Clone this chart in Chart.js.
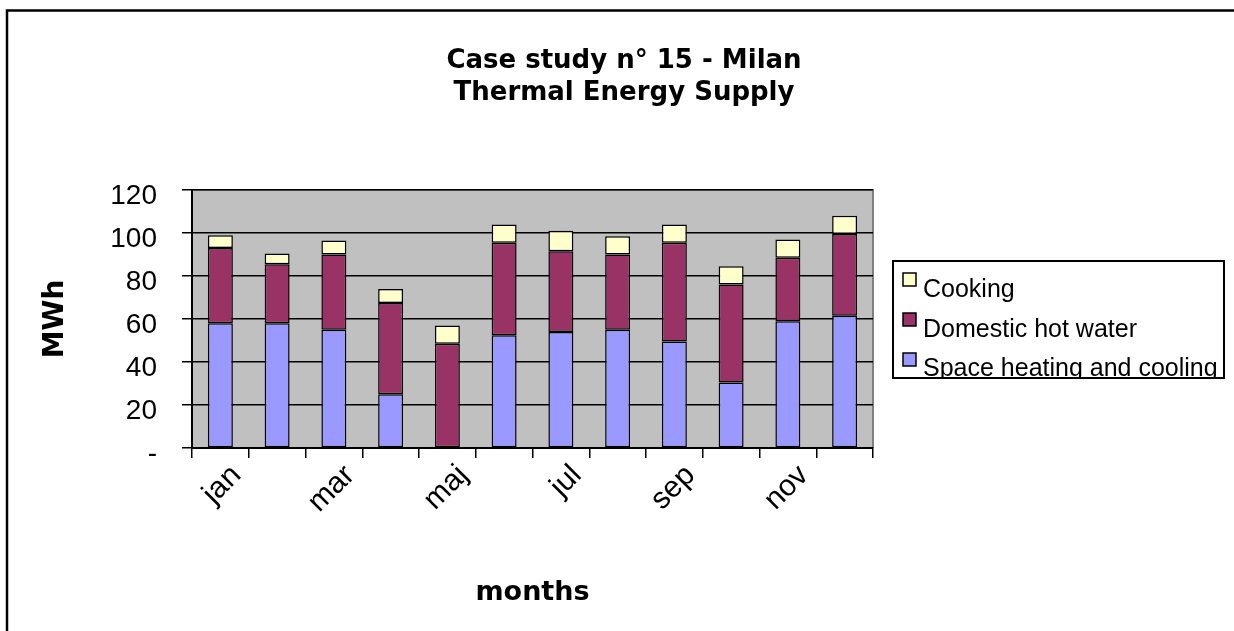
<!DOCTYPE html>
<html>
<head>
<meta charset="utf-8">
<script src="https://cdn.jsdelivr.net/npm/chart.js@4/dist/chart.umd.min.js"></script>
<style>
  html, body { margin: 0; padding: 0; background: #ffffff; }
  #wrap { width: 1234px; height: 631px; position: relative; }
</style>
</head>
<body>
<div id="wrap"><canvas id="c" width="1234" height="631"></canvas></div>
<script>
const categories = ['jan','feb','mar','apr','maj','jun','jul','aug','sep','okt','nov','dec'];
const spaceHeating = [58, 58, 55, 25, 0, 52.5, 54, 55, 49.5, 30.5, 59, 61.5];
const domesticHotWater = [35, 27.5, 35, 42.5, 48.5, 43, 37.5, 35, 46, 45.5, 29.5, 38];
const cooking = [6, 5, 6.5, 6.5, 8.5, 8.5, 9.5, 8.5, 8.5, 8.5, 8.5, 8.5];
const yTicks = [0, 20, 40, 60, 80, 100, 120];
const titleLines = ['Case study n° 15 - Milan', 'Thermal Energy Supply'];
const seriesNames = ['Space heating and cooling', 'Domestic hot water', 'Cooking'];
const seriesColors = ['#9999FF', '#993366', '#FFFFCC'];

const BOLD = '"DejaVu Sans", "Liberation Sans", Arial, sans-serif';
const REG = '"Liberation Sans", Arial, sans-serif';

const frame = {
  id: 'frame',
  beforeDraw(chart) {
    const {ctx, chartArea: a} = chart;
    ctx.save();
    ctx.fillStyle = '#ffffff';
    ctx.fillRect(0, 0, chart.width, chart.height);
    ctx.fillStyle = '#C0C0C0';
    ctx.fillRect(a.left, a.top, a.right - a.left, a.bottom - a.top);
    ctx.strokeStyle = '#808080';
    ctx.lineWidth = 2;
    ctx.beginPath();
    ctx.moveTo(a.left, a.top);
    ctx.lineTo(a.right, a.top);
    ctx.lineTo(a.right, a.bottom);
    ctx.stroke();
    ctx.restore();
  },
  afterDraw(chart) {
    const {ctx} = chart;
    ctx.save();
    // outer chart border
    ctx.strokeStyle = '#000';
    ctx.lineWidth = 2.5;
    ctx.strokeRect(7, 10.5, 1300, 1000);
    // title
    ctx.fillStyle = '#000';
    ctx.font = 'bold 26px ' + BOLD;
    ctx.textAlign = 'center';
    ctx.textBaseline = 'alphabetic';
    ctx.fillText(titleLines[0], 624, 68);
    ctx.fillText(titleLines[1], 624, 100);
    // legend
    const lx = 893, ly = 261, lw = 331, lh = 117;
    ctx.fillStyle = '#fff';
    ctx.fillRect(lx, ly, lw, lh);
    ctx.strokeStyle = '#000';
    ctx.lineWidth = 2;
    ctx.strokeRect(lx, ly, lw, lh);
    ctx.beginPath();
    ctx.rect(lx + 1, ly + 1, lw - 2, lh - 2);
    ctx.clip();
    const ds = chart.data.datasets.slice().reverse();
    ctx.font = '25px ' + REG;
    ctx.textAlign = 'left';
    ds.forEach((d, i) => {
      const sy = 273 + i * 40;
      ctx.fillStyle = d.backgroundColor;
      ctx.fillRect(903, sy, 13, 13);
      ctx.strokeStyle = '#000';
      ctx.lineWidth = 1.5;
      ctx.strokeRect(903, sy, 13, 13);
      ctx.fillStyle = '#000';
      ctx.fillText(d.label, 923, 297 + i * 39.5);
    });
    ctx.restore();
  }
};

const datasets = [spaceHeating, domesticHotWater, cooking].map((vals, i) => ({
  label: seriesNames[i],
  data: vals,
  backgroundColor: seriesColors[i],
  borderColor: '#000',
  borderWidth: 1.5,
  borderSkipped: false,
  barPercentage: 0.44,
  categoryPercentage: 1.0
}));

new Chart(document.getElementById('c'), {
  type: 'bar',
  data: { labels: categories, datasets },
  plugins: [frame],
  options: {
    responsive: false,
    animation: false,
    layout: { padding: { top: 190, right: 361, bottom: 0, left: 0 } },
    plugins: {
      legend: { display: false },
      title: { display: false },
      tooltip: { enabled: false }
    },
    scales: {
      x: {
        stacked: true,
        afterFit(s) { s.height = 631 - 448; },
        border: { display: true, color: '#000', width: 2 },
        grid: { display: true, drawOnChartArea: false, drawTicks: true, tickLength: 10, color: '#000', lineWidth: 1.5, offset: true },
        ticks: {
          autoSkip: false,
          minRotation: 45,
          maxRotation: 45,
          color: '#000',
          font: { family: REG, size: 30 },
          padding: 0,
          labelOffset: 16,
          callback(v, i) { return i % 2 === 0 ? categories[i] : ''; }
        },
        title: {
          display: true,
          text: 'months',
          color: '#000',
          font: { family: BOLD, size: 27, weight: 'bold', lineHeight: 1.2 },
          padding: { top: 0, bottom: 22 }
        }
      },
      y: {
        stacked: true,
        min: 0,
        max: 120,
        afterFit(s) { s.width = 192; },
        afterBuildTicks(s) { s.ticks = yTicks.map(v => ({ value: v })); },
        border: { display: true, color: '#000', width: 2 },
        grid: { color: '#000', lineWidth: 1.5, drawTicks: true, tickLength: 10 },
        ticks: {
          color: '#000',
          font: { family: REG, size: 28 },
          padding: 25,
          labelOffset: 6,
          callback(v) { return v === 0 ? '-' : String(v); }
        },
        title: {
          display: true,
          text: 'MWh',
          color: '#000',
          font: { family: BOLD, size: 28, weight: 'bold', lineHeight: 1.2 },
          padding: { top: 39, bottom: 0 }
        }
      }
    }
  }
});
</script>
</body>
</html>
